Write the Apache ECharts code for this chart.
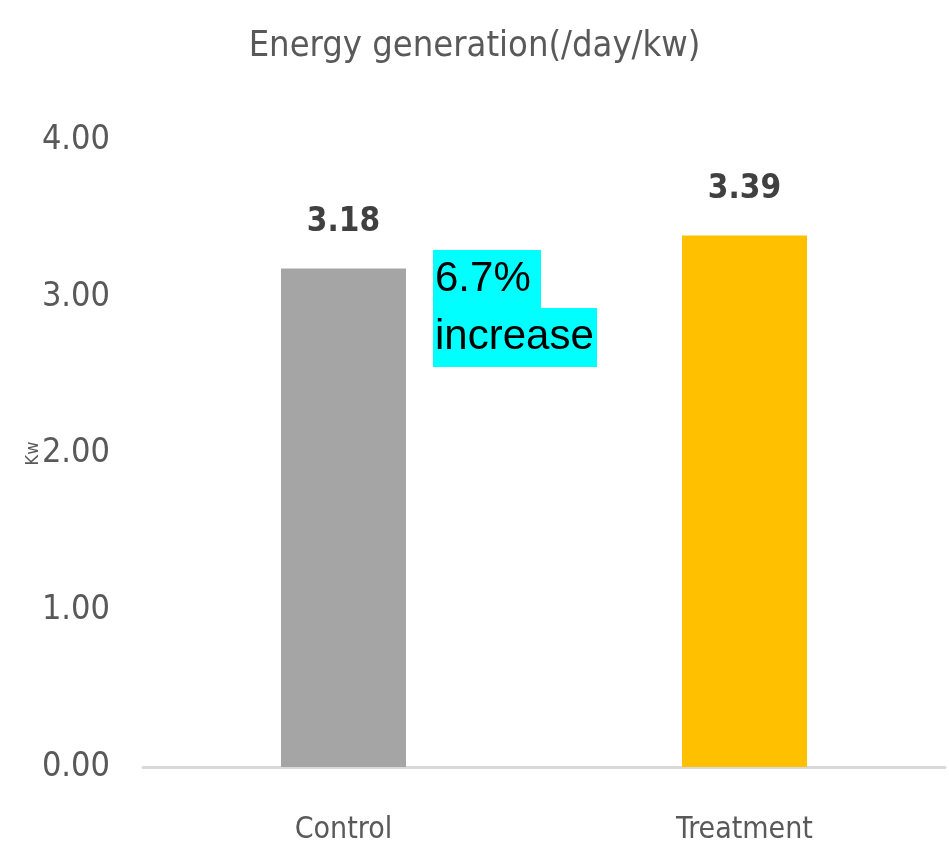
<!DOCTYPE html>
<html>
<head>
<meta charset="utf-8">
<script src="https://cdn.jsdelivr.net/npm/echarts@6/dist/echarts.min.js"></script>
<style>
html,body{margin:0;padding:0;background:#fff;}
#chart{width:949px;height:848px;}
</style>
</head>
<body>
<div id="chart"></div>
<script>
const categories = ['Control', 'Treatment'];
const energyValues = [3.18, 3.39];
const barColors = ['#A5A5A5', '#FFC000'];
const yTicks = [0, 1, 2, 3, 4];
const titleText = 'Energy generation(/day/kw)';
const yAxisName = 'Kw';
const annotationLines = ['6.7%', 'increase'];

const FONT = "'DejaVu Sans Condensed', 'Liberation Sans Narrow', 'Liberation Sans', sans-serif";
const ANNOT_FONT = "'Liberation Sans', Arial, sans-serif";

const chart = echarts.init(document.getElementById('chart'));
chart.setOption({
  backgroundColor: '#ffffff',
  animation: false,
  title: {
    text: titleText,
    left: 'center',
    top: 24,
    textStyle: { fontFamily: FONT, fontSize: 36, fontWeight: 'normal', color: '#595959' }
  },
  grid: { left: 143, right: 4, top: 140, bottom: 81, containLabel: false, outerBoundsMode: 'none' },
  xAxis: {
    type: 'category',
    data: categories,
    axisLine: { show: true, lineStyle: { color: '#D9D9D9', width: 3 } },
    axisTick: { show: false },
    axisLabel: { fontFamily: FONT, fontSize: 30, color: '#595959', margin: 48 }
  },
  yAxis: {
    type: 'value',
    min: yTicks[0],
    max: yTicks[yTicks.length - 1],
    interval: 1,
    name: yAxisName,
    nameLocation: 'middle',
    nameGap: 101,
    nameRotate: 90,
    nameMoveOverlap: false,
    nameTextStyle: { fontFamily: FONT, fontSize: 18, color: '#595959' },
    axisLine: { show: false },
    axisTick: { show: false },
    splitLine: { show: false },
    axisLabel: {
      fontFamily: FONT, fontSize: 34, color: '#595959', margin: 33,
      formatter: v => v.toFixed(2)
    }
  },
  series: [{
    type: 'bar',
    barWidth: 125,
    data: energyValues.map((v, i) => ({ value: v, itemStyle: { color: barColors[i] } })),
    label: {
      show: true,
      position: 'top',
      distance: 30,
      fontFamily: FONT,
      fontSize: 33,
      fontWeight: 'bold',
      color: '#404040',
      formatter: p => p.value.toFixed(2)
    }
  }],
  graphic: [
    {
      type: 'text', left: 433, top: 250,
      style: {
        text: annotationLines[0], fontFamily: ANNOT_FONT, fontSize: 42,
        fill: '#000', backgroundColor: '#00FFFF', width: 106, height: 58, lineHeight: 58,
        padding: [0, 0, 0, 2]
      }
    },
    {
      type: 'text', left: 433, top: 308,
      style: {
        text: annotationLines[1], fontFamily: ANNOT_FONT, fontSize: 42,
        fill: '#000', backgroundColor: '#00FFFF', width: 162, height: 59, lineHeight: 59,
        padding: [0, 0, 0, 2]
      }
    }
  ]
});
</script>
</body>
</html>
